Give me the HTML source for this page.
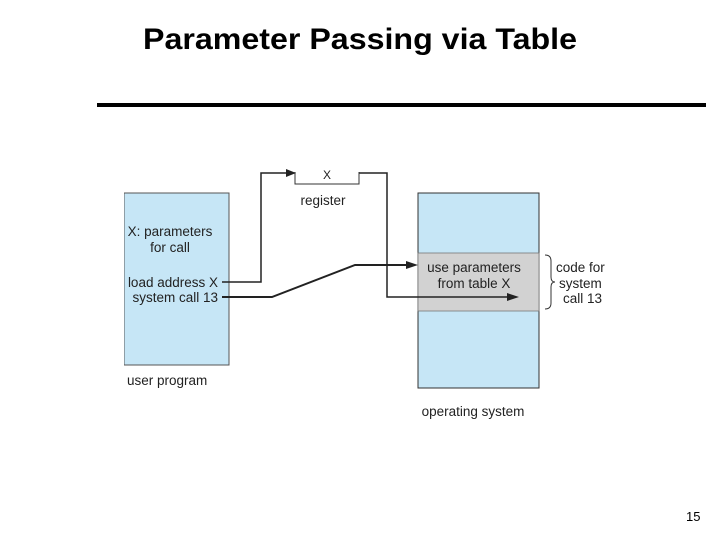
<!DOCTYPE html>
<html><head><style>
body{margin:0;width:720px;height:540px;background:#fff;overflow:hidden;font-family:"Liberation Sans",Arial,sans-serif}
</style></head><body>
<svg width="720" height="540" xmlns="http://www.w3.org/2000/svg" font-family="Liberation Sans, Arial, sans-serif">
<text x="360" y="49" font-size="30" font-weight="bold" text-anchor="middle" fill="#000" textLength="434" lengthAdjust="spacingAndGlyphs">Parameter Passing via Table</text>
<rect x="97" y="103" width="609" height="4" fill="#000"/>
<rect x="124" y="193" width="105" height="172" fill="#c6e6f6" stroke="#555" stroke-width="1"/>
<rect x="120" y="192" width="4" height="175" fill="#fff"/>
<rect x="418" y="193" width="121" height="195" fill="#c6e6f6" stroke="#333" stroke-width="1"/>
<rect x="418" y="253" width="121" height="58" fill="#d2d2d2" stroke="#777" stroke-width="0.8"/>
<g font-size="13.5" fill="#222">
<text x="170" y="236" text-anchor="middle">X: parameters</text>
<text x="170" y="252" text-anchor="middle">for call</text>
<text x="218" y="287" text-anchor="end">load address X</text>
<text x="218" y="302" text-anchor="end">system call 13</text>
<text x="127" y="385">user program</text>
<text x="323" y="205" text-anchor="middle">register</text>
<text x="327" y="179" text-anchor="middle" font-size="12">X</text>
<text x="474" y="272" text-anchor="middle">use parameters</text>
<text x="474" y="288" text-anchor="middle">from table X</text>
<text x="473" y="416" text-anchor="middle">operating system</text>
<text x="556" y="272">code for</text>
<text x="559" y="288">system</text>
<text x="563" y="303">call 13</text>
</g>
<path d="M295 172 V184 H359 V172" fill="none" stroke="#333" stroke-width="1"/>
<path d="M222 282 H261 V173 H287" fill="none" stroke="#222" stroke-width="1.5"/>
<polygon points="296,173 286,169 286,177" fill="#222"/>
<path d="M359 173 H387 V297 H508" fill="none" stroke="#222" stroke-width="1.5"/>
<polygon points="519,297 507,293 507,301" fill="#222"/>
<path d="M222 297 H272 L355 265 H408" fill="none" stroke="#222" stroke-width="2"/>
<polygon points="418,265 406,261 406,269" fill="#222"/>
<path d="M545 255 q6 0 6 6 v16 q0 5 4 5 q-4 0 -4 5 v16 q0 6 -6 6" fill="none" stroke="#333" stroke-width="1"/>
<text x="686" y="521" font-size="13" fill="#000">15</text>
</svg>
</body></html>
